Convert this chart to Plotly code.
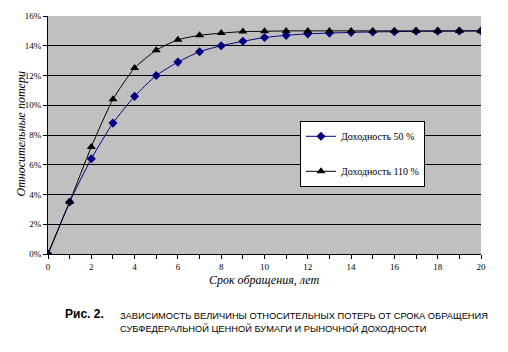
import plotly.graph_objects as go

years = list(range(0, 21))
yield50 = [0.0, 3.5, 6.4, 8.8, 10.6, 12.0, 12.9, 13.6, 14.0, 14.3, 14.55, 14.7, 14.8, 14.85, 14.9, 14.93, 14.95, 14.97, 14.98, 14.99, 15.0]
yield110 = [0.0, 3.5, 7.2, 10.4, 12.5, 13.7, 14.4, 14.7, 14.85, 14.95, 14.97, 15.0, 15.0, 15.0, 15.0, 15.0, 15.0, 15.0, 15.0, 15.0, 15.0]
names = ["Доходность 50 %", "Доходность 110 %"]
ytick_vals = [0, 2, 4, 6, 8, 10, 12, 14, 16]
ytick_text = [f"{v}%" for v in ytick_vals]

serif = "Liberation Serif"
sans = "Liberation Sans"

fig = go.Figure()
fig.add_trace(go.Scatter(x=years, y=[v / 100 for v in yield50], name=names[0], mode="lines+markers",
                         line=dict(color="#000080", width=1, shape="spline", smoothing=0.6),
                         marker=dict(symbol="diamond", size=7, color="#000080"),
                         legendgroup="a"))
fig.add_trace(go.Scatter(x=years, y=[v / 100 for v in yield110], name=names[1], mode="lines+markers",
                         line=dict(color="black", width=1, shape="spline", smoothing=0.6),
                         marker=dict(symbol="triangle-up", size=8, color="black"),
                         legendgroup="b"))

W, H = 508, 352
L, R, T, B = 48, 27, 11, 98
ph = H - T - B

def py(ypix):
    return (H - B - ypix) / ph

def px(xpix):
    return (xpix - L) / (W - L - R)

fig.update_layout(
    width=W, height=H,
    margin=dict(l=L, r=R, t=T, b=B),
    paper_bgcolor="white",
    plot_bgcolor="#C0C0C0",
    font=dict(family=serif, size=9, color="black"),
    showlegend=True,
    legend=dict(x=px(300), y=py(118), xanchor="left", yanchor="top",
                bgcolor="white", bordercolor="black", borderwidth=1,
                font=dict(family=serif, size=10, color="black"),
                tracegroupgap=16, traceorder="grouped",
                itemwidth=30),
    xaxis=dict(range=[0, 20], tickvals=list(range(0, 21, 2)), ticks="outside", ticklen=4,
               tickcolor="black", showline=True, linecolor="black", linewidth=1,
               showgrid=False, zeroline=False,
               minor=dict(tickvals=list(range(0, 21)), ticks="outside", ticklen=4, tickcolor="black"),
               tickfont=dict(family=serif, size=9)),
    yaxis=dict(range=[0, 0.16], tickvals=[v / 100 for v in ytick_vals], ticktext=ytick_text,
               ticks="outside", ticklen=4, tickcolor="black", showline=True, linecolor="black",
               linewidth=1, showgrid=True, gridcolor="black", gridwidth=1, zeroline=False,
               tickfont=dict(family=serif, size=9)),
)

fig.add_annotation(text="<i>Срок обращения, лет</i>", xref="paper", yref="paper",
                   x=px(264), y=py(290), showarrow=False, font=dict(family=serif, size=12))
fig.add_annotation(text="<i>Относительные потери</i>", xref="paper", yref="paper",
                   x=px(12), y=py(132), showarrow=False, textangle=-90,
                   font=dict(family=serif, size=12))
fig.add_annotation(text="<b>Рис. 2.</b>", xref="paper", yref="paper", x=px(63), y=py(324),
                   xanchor="left", showarrow=False, font=dict(family=sans, size=12))
fig.add_annotation(text="ЗАВИСИМОСТЬ ВЕЛИЧИНЫ ОТНОСИТЕЛЬНЫХ ПОТЕРЬ ОТ СРОКА ОБРАЩЕНИЯ",
                   xref="paper", yref="paper", x=px(118), y=py(324),
                   xanchor="left", showarrow=False, font=dict(family=sans, size=9.3))
fig.add_annotation(text="СУБФЕДЕРАЛЬНОЙ ЦЕННОЙ БУМАГИ И РЫНОЧНОЙ ДОХОДНОСТИ",
                   xref="paper", yref="paper", x=px(118), y=py(338),
                   xanchor="left", showarrow=False, font=dict(family=sans, size=9.3))

fig.write_html("out.html")
